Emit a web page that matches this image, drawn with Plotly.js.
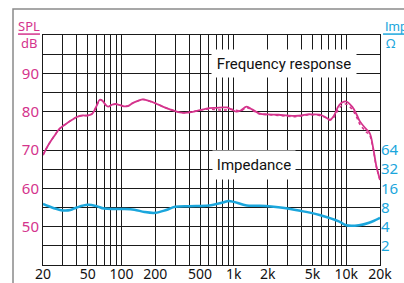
<!DOCTYPE html>
<html>
<head>
<meta charset="utf-8">
<script src="https://cdn.plot.ly/plotly-3.0.1.min.js"></script>
<style>html,body{margin:0;padding:0;background:#fff;}#chart{width:404px;height:283px;}</style>
</head>
<body>
<div id="chart"></div>
<script>
// Frequency response (SPL, dB) – solid measurement
const splFreq = [20,22,25,28,32,36,40,45,50,55,60,64,68,72,76,82,88,95,105,115,125,140,155,175,200,230,270,320,360,420,500,600,700,800,870,950,1050,1150,1300,1450,1700,2000,2500,3000,3500,4000,4500,5000,5800,6500,7200,7800,8700,9900,11300,12500,13300,15000,16200,17400,18500,20000];
const splSolid = [68.7,71,73.5,75.5,76.8,77.8,78.6,79,79,79.5,81.5,83.1,82.8,81.8,81.3,81.8,82,81.8,81.4,81.5,82.2,82.8,83.2,82.8,82.2,81.4,80.6,79.9,79.7,79.9,80.4,80.9,81.0,81.1,81.1,80.6,80.0,80.3,81.3,80.6,79.5,79.3,79.2,79.0,78.9,79.0,79.3,79.3,79.2,78.6,77.9,79.0,81.8,82.7,81.3,79.0,77.4,75.5,74.4,70.5,66,62.2];
// second (dotted) measurement
const splDotted = [68.7,71,73.5,75.5,76.8,77.8,78.6,79,79,79.5,81.5,83.1,82.8,81.8,81.3,81.8,82,81.8,81.4,81.5,82.2,82.8,83.2,82.8,82.2,81.4,80.6,79.9,79.7,79.9,80.4,80.7,80.5,80.4,80.5,80.6,80.4,80.2,81.0,80.4,79.4,79.2,79.0,78.8,78.7,78.9,79.1,79.2,79.0,78.5,77.8,78.6,81.0,82.0,80.6,78.3,76.6,74.8,73.8,70.2,65.8,62.2];
// Impedance (Ohm)
const impFreq = [20,25,30,35,40,50,60,70,100,130,160,200,250,300,400,600,800,900,1000,1300,1700,2600,3900,5800,8700,10000,13000,16000,20000];
const impVal = [9.1,7.8,7.2,7.3,8.0,8.8,8.4,7.7,7.6,7.4,6.8,6.6,7.3,8.2,8.4,8.6,9.6,10.1,9.8,8.6,8.5,8.0,7.1,6.1,4.8,4.2,4.2,4.6,5.5];

const xGrid = [20,30,40,50,60,70,80,90,100,200,300,400,500,600,700,800,900,1000,2000,3000,4000,5000,6000,7000,8000,9000,10000,20000];
const xLabels = {20:'20',50:'50',100:'100',200:'200',500:'500',1000:'1k',2000:'2k',5000:'5k',10000:'10k',20000:'20k'};
const yGrid = [40,45,50,55,60,65,70,75,80,85,90,95,100];
const yLabels = {50:'50',60:'60',70:'70',80:'80',90:'90'};
const impTicks = [2,4,8,16,32,64];

const MAG = '#d4338c';
const CYAN = '#1ba6dc';
const tickFont = {family:'Noto Sans, sans-serif', size:15};
const boxFont = {family:'Roboto, sans-serif', size:15, color:'#111'};

const traces = [
  {x: splFreq, y: splDotted, type:'scatter', mode:'lines', line:{color:MAG, width:1.5, dash:'dot', shape:'spline'}, hoverinfo:'skip'},
  {x: splFreq, y: splSolid, type:'scatter', mode:'lines', line:{color:MAG, width:1.8, shape:'spline'}, hoverinfo:'skip'},
  {x: impFreq, y: impVal, type:'scatter', mode:'lines', yaxis:'y2', line:{color:CYAN, width:2.5, shape:'spline'}, hoverinfo:'skip'}
];

const layout = {
  width:404, height:283,
  margin:{l:43, r:24, t:35, b:18, pad:0},
  paper_bgcolor:'#fff', plot_bgcolor:'#fff',
  showlegend:false,
  xaxis:{
    type:'log', range:[Math.log10(20), Math.log10(20000)],
    tickmode:'array', tickvals:xGrid, ticktext:xGrid.map(v => xLabels[v] || ''),
    showgrid:true, gridcolor:'#1a1a1a', gridwidth:1,
    showline:true, linecolor:'#1a1a1a', linewidth:1, mirror:true,
    ticks:'', zeroline:false, ticklabelstandoff:-4,
    tickfont:Object.assign({color:'#111'}, tickFont, {size:14})
  },
  yaxis:{
    range:[40,100],
    tickmode:'array', tickvals:yGrid, ticktext:yGrid.map(v => yLabels[v] || ''),
    showgrid:true, gridcolor:'#1a1a1a', gridwidth:1,
    showline:true, linecolor:'#1a1a1a', linewidth:1, mirror:true,
    ticks:'', zeroline:false,
    tickfont:Object.assign({color:MAG}, tickFont)
  },
  yaxis2:{
    type:'log', overlaying:'y', side:'right',
    range:[0, Math.log10(4096)],
    tickmode:'array', tickvals:impTicks, ticktext:impTicks.map(String),
    showgrid:false, zeroline:false, showline:false, ticks:'',
    tickfont:Object.assign({color:CYAN}, tickFont)
  },
  shapes:[
    {type:'path', xref:'paper', yref:'paper', path:'M -0.089,-0.3 L -0.089,1.113 L 1.2,1.113', line:{color:'#8a8a8a', width:1.5}},
    {type:'line', xref:'paper', yref:'paper', x0:-0.074, x1:-0.009, y0:1.004, y1:1.004, line:{color:MAG, width:1.5}},
    {type:'line', xref:'paper', yref:'paper', x0:1.009, x1:1.08, y0:1.004, y1:1.004, line:{color:CYAN, width:1.5}}
  ],
  annotations:[
    {xref:'paper', yref:'paper', x:-0.042, y:1.037, xanchor:'center', yanchor:'middle', text:'SPL', showarrow:false, font:{family:'Noto Sans, sans-serif', size:13, color:MAG}},
    {xref:'paper', yref:'paper', x:-0.042, y:0.965, xanchor:'center', yanchor:'middle', text:'dB', showarrow:false, font:{family:'Noto Sans, sans-serif', size:13, color:MAG}},
    {xref:'paper', yref:'paper', x:1.009, xanchor:'left', y:1.037, yanchor:'middle', text:'Imp', showarrow:false, font:{family:'Roboto, sans-serif', size:13, color:CYAN}},
    {xref:'paper', yref:'paper', x:1.012, xanchor:'left', y:0.965, yanchor:'middle', text:'Ω', showarrow:false, font:{family:'Noto Sans, sans-serif', size:13, color:CYAN}},
    {xref:'paper', yref:'paper', x:0.715, y:0.878, xanchor:'center', yanchor:'middle', text:'Frequency response', showarrow:false, bgcolor:'#fff', width:142, height:25, font:boxFont},
    {xref:'paper', yref:'paper', x:0.625, y:0.435, xanchor:'center', yanchor:'middle', text:'Impedance', showarrow:false, bgcolor:'#fff', width:80, height:26, font:boxFont}
  ]
};

Plotly.newPlot('chart', traces, layout, {staticPlot:true, displayModeBar:false});
</script>
</body>
</html>
